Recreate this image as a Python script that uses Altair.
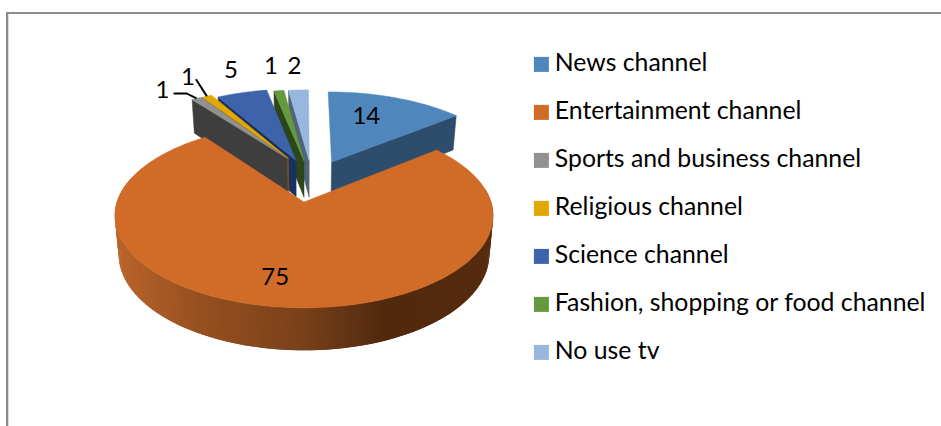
import math
import altair as alt

# Survey answers, in the order the slices run clockwise from twelve o'clock
categories = ["News channel", "Entertainment channel", "Sports and business channel",
              "Religious channel", "Science channel", "Fashion, shopping or food channel", "No use tv"]
values = [14, 75, 1, 1, 5, 1, 2]
top_colors = ["#4f86bb", "#d06c28", "#919191", "#e2a800", "#3d63ab", "#649a3d", "#97b7df"]
cut_colors = ["#2e4d6d", "#8a4a1c", "#3e3e3e", "#7d5e06", "#1a3060", "#2c451a", "#4f6379"]

# Perspective model of the tilted disc: screen centre, half axes, depth
CX, CY, AX, BY, PERSP, DEPTH = 304.0, 202.0, 187.0, 90.0, 0.149, 38.0
# Explosion of each slice (disc units) and its radius
offsets = [(0.158, 0.476), (0.0, 0.0), (-0.098, 0.524), (-0.09, 0.524),
           (-0.046, 0.495), (0.0, 0.49), (0.03, 0.49)]
radii = [1.02, 1.0, 1.05, 1.05, 1.05, 1.04, 1.04]
PAINT_ORDER = [0, 6, 5, 4, 3, 2, 1]


def project(u, v, lower=False):
    s = 1 / (1 + PERSP * v)
    x, y = AX * u * s, -BY * v * s
    if lower:
        x, y = x * 0.98, y * 0.98 + DEPTH * s
    return [CX + x, CY + y]


total = sum(values)
spans, running = [], 0.0
for val in values:
    spans.append((running / total * 2 * math.pi, (running + val) / total * 2 * math.pi))
    running += val


def rim(i, t, lower=False):
    du, dv = offsets[i]
    return project(du + radii[i] * math.sin(t), dv + radii[i] * math.cos(t), lower)


def apex(i, lower=False):
    return project(offsets[i][0], offsets[i][1], lower)


def face(points, color, line=None):
    ring = points + [points[0]]
    return {"type": "Feature", "geometry": {"type": "Polygon", "coordinates": [ring]},
            "properties": {"fill": color, "line": line or color}}


# Side wall shading along the screen x position
WALL_STOPS = [(115, (186, 100, 42)), (200, (150, 80, 32)), (300, (122, 65, 26)), (385, (82, 41, 14)), (495, (86, 43, 15))]


def wall_color(x):
    for (x0, c0), (x1, c1) in zip(WALL_STOPS, WALL_STOPS[1:]):
        if x <= x1:
            f = max(0.0, (x - x0) / (x1 - x0))
            return "#%02x%02x%02x" % tuple(round(a + (b - a) * f) for a, b in zip(c0, c1))
    return "#56290f"


features = []
for i in PAINT_ORDER:
    t0, t1 = spans[i]
    steps = max(3, int((t1 - t0) / math.radians(1.0)))
    ts = [t0 + (t1 - t0) * k / steps for k in range(steps + 1)]
    top = [apex(i)] + [rim(i, t) for t in ts]
    if i == 0:
        # right-hand cut face of the slice
        features.append(face([apex(i), rim(i, t1), rim(i, t1, True), apex(i, True)], cut_colors[i]))
    elif i == 1:
        # rounded outer wall: each strip runs under the next one so no seams show
        for k, (a, b) in enumerate(zip(ts, ts[1:])):
            if math.radians(80) < a < math.radians(285):
                c = ts[min(k + 2, steps)]
                p = rim(i, a)
                q = rim(i, b)
                features.append(face([p, rim(i, c), rim(i, c, True), rim(i, a, True)],
                                     wall_color((p[0] + q[0]) / 2), "transparent"))
    else:
        # left-hand cut face of the slice
        features.append(face([apex(i), rim(i, t0), rim(i, t0, True), apex(i, True)], cut_colors[i]))
    features.append(face(top, top_colors[i]))

slices = alt.Chart(alt.Data(values=features)).mark_geoshape(strokeWidth=0.5).encode(
    fill=alt.Fill("properties.fill:N", scale=None, legend=None),
    stroke=alt.Stroke("properties.line:N", scale=None, legend=None),
)

# Data labels: placed relative to the rim of each slice
label_offsets = [(-30, 19), (-1, -29), (-34, -7), (-19, -18), (-11, -22), (-8, -24), (-4, -23)]
label_rows = []
for i, val in enumerate(values):
    r = rim(i, sum(spans[i]) / 2)
    dx, dy = label_offsets[i]
    label_rows.append({"px": r[0] + dx, "py": r[1] + dy, "txt": str(val)})

labels = alt.Chart(alt.Data(values=label_rows)).mark_text(
    font="Lato", fontSize=24, color="#000000", align="center", baseline="middle"
).encode(x=alt.X("px:Q", scale=None, axis=None), y=alt.Y("py:Q", scale=None, axis=None), text="txt:N")

# Leader lines for the two thinnest slices
leader_rows = []
for name, i, bends in (("sports", 2, [(-23, -5), (-10, -5), (0, 0)]), ("religious", 3, [(-11, -17), (0, 0)])):
    r = rim(i, sum(spans[i]) / 2)
    for k, (dx, dy) in enumerate(bends):
        leader_rows.append({"px": r[0] + dx, "py": r[1] + dy, "line": name, "k": k})

leaders = alt.Chart(alt.Data(values=leader_rows)).mark_line(color="#000000", strokeWidth=2).encode(
    x=alt.X("px:Q", scale=None, axis=None), y=alt.Y("py:Q", scale=None, axis=None),
    detail="line:N", order="k:Q",
)

# Legend only: the squares carry no visible mark of their own in the plot
legend_rows = [{"category": c} for c in categories]
legend_layer = alt.Chart(alt.Data(values=legend_rows)).mark_square(size=0).encode(
    x=alt.value(0), y=alt.value(0),
    color=alt.Color(
        "category:N",
        scale=alt.Scale(domain=categories, range=top_colors),
        sort=categories,
        legend=alt.Legend(
            title=None, orient="none", legendX=529, legendY=52, columns=1,
            symbolType="square", symbolSize=225, symbolStrokeWidth=0, symbolOpacity=1,
            labelFont="Lato", labelFontSize=24.8, labelColor="#000000", labelLimit=420,
            labelOffset=1, rowPadding=22, padding=0,
        ),
    ),
)

frame_top = alt.Chart(alt.Data(values=[{"a": 0}])).mark_rule(color="#8c8c8c", strokeWidth=2).encode(
    x=alt.value(6), x2=alt.value(941), y=alt.value(13))
frame_left = alt.Chart(alt.Data(values=[{"a": 0}])).mark_rule(color="#8c8c8c", strokeWidth=2).encode(
    x=alt.value(7), y=alt.value(12), y2=alt.value(426))
frame_glow = alt.Chart(alt.Data(values=[{"a": 0}])).mark_rule(color="#dddddd", strokeWidth=1).encode(
    x=alt.value(8.5), y=alt.value(14), y2=alt.value(426))

chart = alt.layer(frame_left, frame_glow, frame_top, slices, leaders, labels, legend_layer).project(
    type="identity", scale=1, translate=[0, 0]
).properties(
    width=941, height=426, padding=0, autosize=alt.AutoSizeParams(type="none"), background="#ffffff"
).configure_view(stroke=None)

chart.save("out.html", embed_options={"renderer": "svg", "actions": False})
